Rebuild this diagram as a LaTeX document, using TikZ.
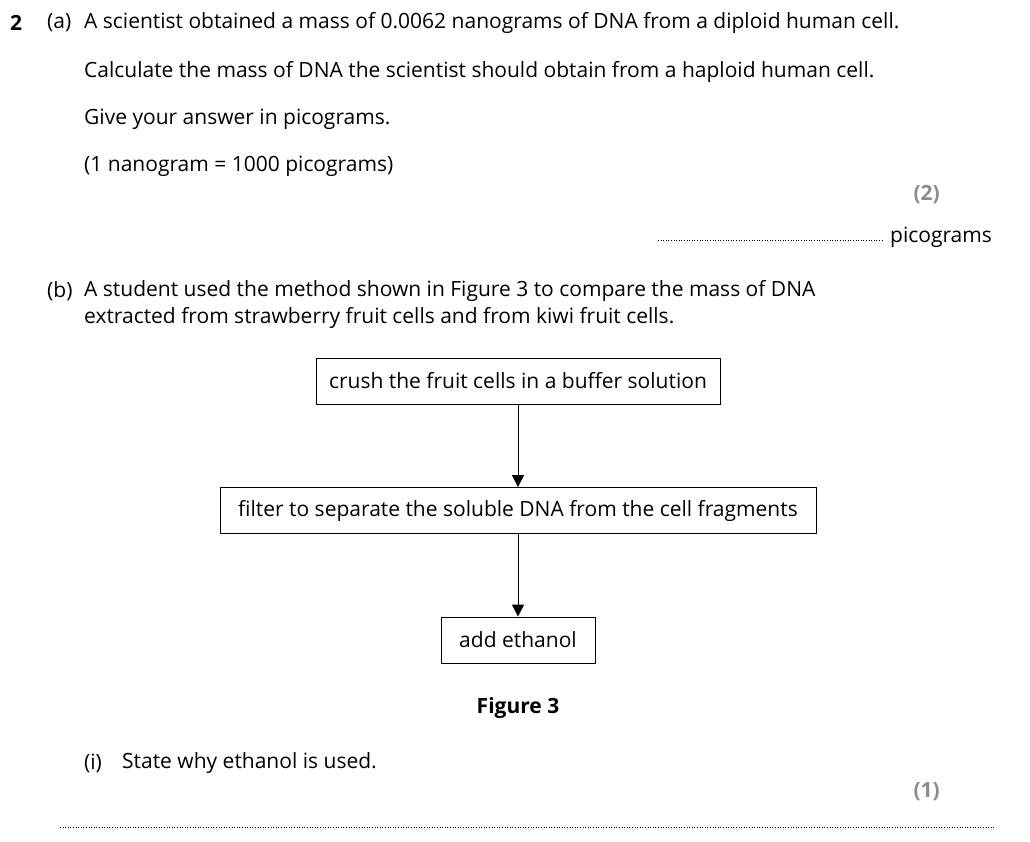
\documentclass[tikz,border=0pt]{standalone}
\usepackage{fontspec}
\setmainfont{Open Sans}
\usetikzlibrary{arrows.meta}
\begin{document}
\begin{tikzpicture}[x=1pt,y=-1pt,
  txt/.style={anchor=west,inner sep=0pt,font=\fontsize{21}{24}\selectfont},
  markstyle/.style={anchor=east,inner sep=0pt,font=\fontsize{21}{24}\selectfont\bfseries,text=black!45},
  stepbox/.style={draw,line width=0.8pt,minimum height=46pt,inner sep=0pt,font=\fontsize{21}{24}\selectfont},
  arr/.style={-{Triangle[length=12pt,width=12pt]},line width=0.8pt},
  dots/.style={dotted,line width=0.6pt}]
\useasboundingbox (0,0) rectangle (1030,841);
\node[txt,font=\fontsize{21}{24}\selectfont\bfseries] (q) at (10,23) {2};
\node[txt] (a) at (47,23) {(a)};
\node[txt] (a1) at (84,23) {A scientist obtained a mass of 0.0062 nanograms of DNA from a diploid human cell.};
\node[txt] (a2) at (84,72) {Calculate the mass of DNA the scientist should obtain from a haploid human cell.};
\node[txt] (a3) at (84,119) {Give your answer in picograms.};
\node[txt] (a4) at (84,166) {(1 nanogram = 1000 picograms)};
\node[markstyle] (m2) at (940,195) {(2)};
\coordinate (d1) at (658,240); \coordinate (d2) at (884,240);
\draw[dots] (d1) -- (d2);
\node[txt] (pg) at (890,237) {picograms};
\node[txt] (b) at (47,291) {(b)};
\node[txt] (b1) at (84,291) {A student used the method shown in Figure 3 to compare the mass of DNA};
\node[txt] (b2) at (84,318) {extracted from strawberry fruit cells and from kiwi fruit cells.};
\node[stepbox,minimum width=404pt] (s1) at (518,381) {crush the fruit cells in a buffer solution};
\node[stepbox,minimum width=596pt] (s2) at (518,510.5) {filter to separate the soluble DNA from the cell fragments};
\node[stepbox,minimum width=154pt] (s3) at (518,640) {add ethanol};
\draw[arr] (s1) -- (s2);
\draw[arr] (s2) -- (s3);
\node[inner sep=0pt,font=\fontsize{21}{24}\selectfont\bfseries] (fig) at (518,708) {Figure 3};
\node[txt] (i) at (84,763) {(i)};
\node[txt] (i1) at (122,763) {State why ethanol is used.};
\node[markstyle] (m1) at (940,792) {(1)};
\coordinate (e1) at (60,827); \coordinate (e2) at (994,827);
\draw[dots] (e1) -- (e2);
\end{tikzpicture}
\end{document}
